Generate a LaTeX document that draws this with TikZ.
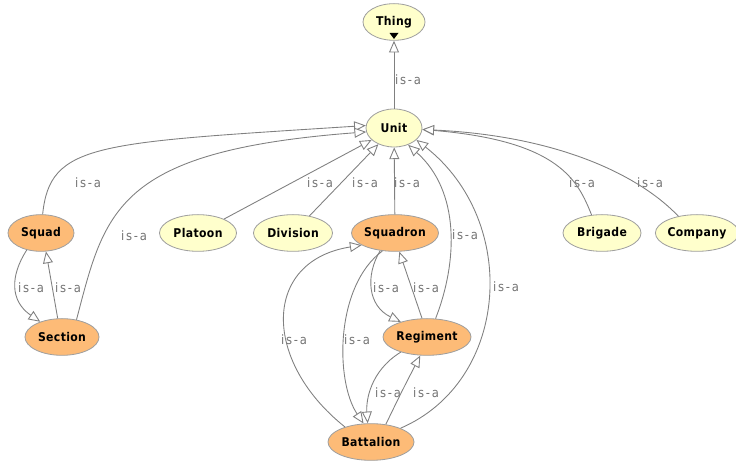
\documentclass[tikz,border=0pt]{standalone}
\usepackage{fontspec}
\setmainfont{DejaVu Sans}
\newfontfamily\nodefont[FakeStretch=0.9,LetterSpace=3]{DejaVu Sans}
\newfontfamily\labelfont[FakeStretch=0.9,LetterSpace=14]{DejaVu Sans}
\usepackage{tikz}
\usetikzlibrary{arrows.meta,shapes.geometric}
\definecolor{classyellow}{HTML}{FFFFCC}
\definecolor{classorange}{HTML}{FDBB77}
\definecolor{edgegray}{HTML}{808080}

\begin{document}
\begin{tikzpicture}
[x=0.03cm,y=0.03cm,
 cls/.style={ellipse,draw=gray!75,line width=.7pt,inner sep=0pt,minimum height=1.1cm,
   font=\nodefont\bfseries\fontsize{10.3}{12}\selectfont},
 yel/.style={cls,fill=classyellow},
 org/.style={cls,fill=classorange},
 isalabel/.style={text=gray!90!black,font=\labelfont\fontsize{11}{12}\selectfont},
 isa/.style={draw=edgegray,line width=.75pt,-{Triangle[open,fill=white,length=10pt,width=8.5pt]}}]
\useasboundingbox (0,0) rectangle (736,461);

\node[yel,minimum width=1.86cm] (v1) at (394,439) {Thing};
\node[yel,minimum width=1.68cm,minimum height=1.14cm] (v2) at (394,333) {Unit};
\node[org,minimum width=1.98cm] (v3) at (41,228) {Squad};
\node[yel,minimum width=2.31cm] (v4) at (198,228) {Platoon};
\node[yel,minimum width=2.37cm] (v5) at (293,228) {Division};
\node[org,minimum width=2.58cm] (v6) at (395,228) {Squadron};
\node[yel,minimum width=2.34cm] (v7) at (602,228) {Brigade};
\node[yel,minimum width=2.31cm] (v8) at (697,228) {Company};
\node[org,minimum width=2.22cm] (v9) at (62,124) {Section};
\node[org,minimum width=2.64cm] (v10) at (427,124) {Regiment};
\node[org,minimum width=2.58cm] (v11) at (371,19) {Battalion};

\node[isalabel] (v12) at (408,381) {is-a};
\node[isalabel] (v13) at (88,278) {is-a};
\node[isalabel] (v14) at (134,225) {is-a};
\node[isalabel] (v15) at (320,278) {is-a};
\node[isalabel] (v16) at (365,278) {is-a};
\node[isalabel] (v17) at (407,278) {is-a};
\node[isalabel] (v18) at (465,226) {is-a};
\node[isalabel] (v19) at (506,174) {is-a};
\node[isalabel] (v20) at (582,278) {is-a};
\node[isalabel] (v21) at (650,278) {is-a};
\node[isalabel] (v22) at (31,173) {is-a};
\node[isalabel] (v23) at (68,173) {is-a};
\node[isalabel] (v24) at (386,173) {is-a};
\node[isalabel] (v25) at (426,173) {is-a};
\node[isalabel] (v26) at (294,121) {is-a};
\node[isalabel] (v27) at (357,121) {is-a};
\node[isalabel] (v28) at (388,68) {is-a};
\node[isalabel] (v29) at (426,68) {is-a};

\foreach \from/\to in {v2/v1,v4/v2,v5/v2,v6/v2,v9.103/v3.-75,v10.105/v6.-77}
\draw[isa] (\from) -- (\to);

\draw[isa] (v3.85) .. controls (50,318) and (95,318) .. (v2.175);
\draw[isa] (v9.50) .. controls (105,250) and (115,310) .. (v2.188);
\draw[isa] (v10.65) .. controls (458,200) and (460,270) .. (v2.-50);
\draw[isa] (v11.25) .. controls (510,80) and (520,240) .. (v2.-28);
\draw[isa] (v7.120) .. controls (578,280) and (560,320) .. (v2.-3);
\draw[isa] (v8.138) .. controls (640,285) and (560,325) .. (v2.-3);
\draw[isa] (v3.-130) .. controls (10,185) and (10,160) .. (v9.145);
\draw[isa] (v6.-130) .. controls (365,185) and (368,155) .. (v10.150);
\draw[isa] (v6.-125) .. controls (335,175) and (335,80) .. (v11.112);
\draw[isa] (v11.150) .. controls (262,100) and (262,200) .. (v6.-160);
\draw[isa] (v10.-150) .. controls (370,90) and (366,60) .. (v11.100);
\draw[isa] (v11.50) .. controls (402,70) .. (v10.-110);

\fill (389.5,428) -- (398.5,428) -- (394,422) -- cycle;
\end{tikzpicture}
\end{document}
